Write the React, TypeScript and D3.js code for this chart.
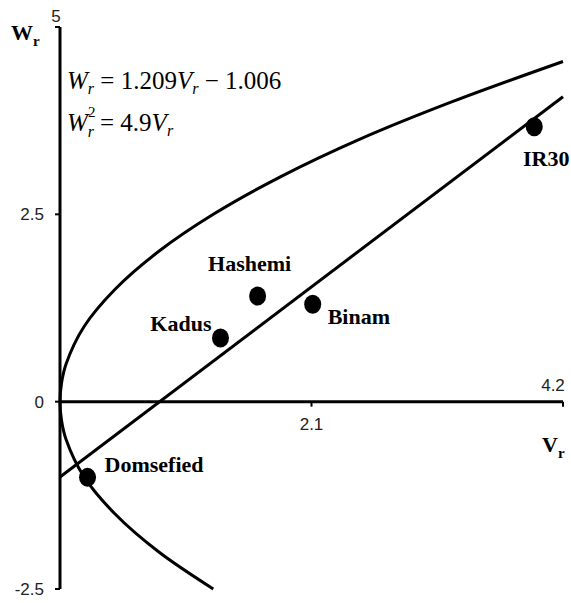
import * as d3 from 'd3';

// measured cultivars (Vr, Wr)
const cultivars = ['Domsefied', 'Kadus', 'Hashemi', 'Binam', 'IR30'];
const vrValues = [0.23, 1.34, 1.65, 2.11, 3.96];
const wrValues = [-1.01, 0.85, 1.41, 1.3, 3.67];

// limiting parabola Wr^2 = 4.9 Vr
const parabolaV = [1.28, 0.82, 0.46, 0.2, 0.05, 0.013, 0, 0.013, 0.05, 0.2, 0.46, 0.82, 1.28, 1.84, 2.5, 3.27, 4.2];
const parabolaW = [-2.5, -2, -1.5, -1, -0.5, -0.25, 0, 0.25, 0.5, 1, 1.5, 2, 2.5, 3, 3.5, 4, 4.54];

// regression line Wr = 1.209 Vr - 1.006
const regV = [0, 4.2];
const regW = [-1.006, 4.07];

const yTicks = [-2.5, 0, 2.5, 5];
const xTicks = [2.1, 4.2];

const labelStyle: Record<string, { dx: number; dy: number; anchor: string }> = {
    Domsefied: { dx: 17, dy: -5, anchor: 'start' },
    Kadus: { dx: -9, dy: -7, anchor: 'end' },
    Hashemi: { dx: -8, dy: -25, anchor: 'middle' },
    Binam: { dx: 15, dy: 20, anchor: 'start' },
    IR30: { dx: 12, dy: 39, anchor: 'middle' },
};

const serif = '"Liberation Serif", "Times New Roman", serif';
const sans = '"Liberation Sans", Arial, sans-serif';

export default function App() {
    const width = 571;
    const height = 603;

    const x = d3.scaleLinear().domain([0, 4.2]).range([60, 563]);
    const y = d3.scaleLinear().domain([-2.5, 5]).range([589, 27]);

    const parabola = d3.line<number>()
        .x(i => x(parabolaV[i]))
        .y(i => y(parabolaW[i]))
        .curve(d3.curveCatmullRom.alpha(0.5));

    const regLine = d3.line<number>()
        .x(i => x(regV[i]))
        .y(i => y(regW[i]));

    return (
        <svg width={width} height={height} style={{ position: 'absolute', left: 0, top: 0, background: '#fff' }}>
            {/* axes */}
            <line x1={x(0)} x2={x(0)} y1={y(5)} y2={y(-2.5)} stroke="#000" strokeWidth={3} />
            <line x1={x(0)} x2={x(4.2)} y1={y(0)} y2={y(0)} stroke="#000" strokeWidth={3} />

            {yTicks.map(t => (
                <line key={'yt' + t} x1={x(0) - 5} x2={x(0)} y1={y(t)} y2={y(t)} stroke="#000" strokeWidth={2} />
            ))}
            {xTicks.map(t => (
                <line key={'xt' + t} x1={x(t)} x2={x(t)} y1={y(0)} y2={y(0) + 5} stroke="#000" strokeWidth={2} />
            ))}

            {yTicks.map(t => t === 5 ? (
                <text key={'yl' + t} x={x(0) - 4} y={y(t) - 5} textAnchor="middle" fontFamily={sans} fontSize={17} fill="#222">
                    {t}
                </text>
            ) : (
                <text key={'yl' + t} x={x(0) - 16} y={y(t)} dy="0.35em" textAnchor="end" fontFamily={sans} fontSize={17} fill="#222">
                    {t}
                </text>
            ))}
            {xTicks.map((t, i) => (
                <text key={'xl' + t} x={x(t) - (i === 1 ? 10 : 0)} y={i === 0 ? y(0) + 28 : y(0) - 11}
                    textAnchor="middle" fontFamily={sans} fontSize={17} fill="#222">
                    {t}
                </text>
            ))}

            {/* axis titles */}
            <text x={11} y={40} fontFamily={serif} fontWeight="bold" fontSize={22}>
                W<tspan fontSize={15} dy={6}>r</tspan>
            </text>
            <text x={542} y={452} fontFamily={serif} fontWeight="bold" fontSize={22}>
                V<tspan fontSize={15} dy={6}>r</tspan>
            </text>

            {/* curves */}
            <path d={parabola(d3.range(parabolaV.length)) ?? ''} fill="none" stroke="#000" strokeWidth={3} />
            <path d={regLine(d3.range(regV.length)) ?? ''} fill="none" stroke="#000" strokeWidth={3} />

            {/* points + labels */}
            {cultivars.map((c, i) => {
                const s = labelStyle[c];
                return (
                    <g key={c}>
                        <ellipse cx={x(vrValues[i])} cy={y(wrValues[i])} rx={8.5} ry={9.5} fill="#000" />
                        <text x={x(vrValues[i]) + s.dx} y={y(wrValues[i]) + s.dy} textAnchor={s.anchor}
                            fontFamily={serif} fontWeight="bold" fontSize={22}>
                            {c}
                        </text>
                    </g>
                );
            })}

            {/* equations */}
            <text x={67} y={89} fontFamily={serif} fontSize={25}>
                <tspan fontStyle="italic">W</tspan>
                <tspan fontStyle="italic" fontSize={16} dy={5}>r</tspan>
                <tspan dy={-5}> = 1.209</tspan>
                <tspan fontStyle="italic">V</tspan>
                <tspan fontStyle="italic" fontSize={16} dy={5}>r</tspan>
                <tspan dy={-5}> − 1.006</tspan>
            </text>
            <text x={67} y={131} fontFamily={serif} fontSize={25}>
                <tspan fontStyle="italic">W</tspan>
                <tspan fontStyle="italic" fontSize={16} dy={6}>r</tspan>
            </text>
            <text x={88} y={117} fontFamily={serif} fontSize={15}>2</text>
            <text x={100} y={131} fontFamily={serif} fontSize={25}>
                <tspan> = 4.9</tspan>
                <tspan fontStyle="italic">V</tspan>
                <tspan fontStyle="italic" fontSize={16} dy={5}>r</tspan>
            </text>
        </svg>
    );
}
